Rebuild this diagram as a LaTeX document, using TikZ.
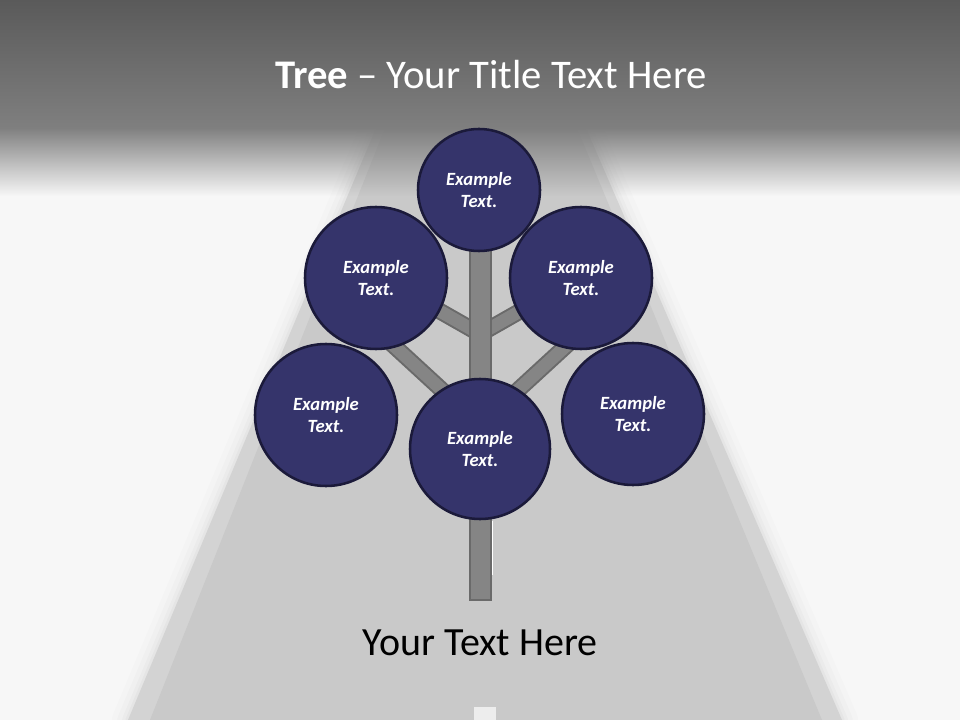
\documentclass[tikz,border=0pt]{standalone}
\usepackage{fontspec}
\setmainfont{Carlito}
\usetikzlibrary{fadings,calc}
\definecolor{bg}{HTML}{F7F7F7}
\definecolor{hdrtop}{HTML}{5A5A5A}
\definecolor{hdrbot}{HTML}{7F7F7F}
\definecolor{roadc}{HTML}{C9C9C9}
\definecolor{roadedge}{HTML}{D3D3D3}
\definecolor{bubblefill}{HTML}{35346B}
\definecolor{bubbleline}{HTML}{1B1A3A}
\definecolor{woodfill}{HTML}{858585}
\definecolor{woodline}{HTML}{6A6A6A}
\definecolor{dashc}{HTML}{EDEDED}
\tikzfading[name=fadedown, top color=transparent!0, bottom color=transparent!100]
\begin{document}
\begin{tikzpicture}[x=0.75pt,y=-0.75pt,
  bubble/.style={circle, fill=bubblefill, draw=bubbleline, line width=1.9pt,
    text=white, align=center, inner sep=0pt,
    font=\bfseries\itshape\fontsize{14}{17}\selectfont},
  branchout/.style={draw=woodline, line width=12.5pt},
  branchin/.style={draw=woodfill, line width=9.5pt},
  trunkbox/.style={fill=woodfill, draw=woodline, line width=1.5pt},
  glow/.style={draw=black, line join=round}]
\useasboundingbox (0,0) rectangle (960,720);
\fill[bg] (0,0) rectangle (960,720);
% road shadow
\foreach \w/\o in {24/0.012,16/0.015,9/0.02,4/0.025}{
  \draw[glow, line width=\w pt, opacity=\o] (376,128) -- (586,128) -- (842,720) -- (128,720) -- cycle;}
% road
\fill[roadedge] (376,128) -- (586,128) -- (842,720) -- (128,720) -- cycle;
\fill[roadc] (385,128) -- (577,128) -- (822,720) -- (150,720) -- cycle;
\fill[dashc] (474,707) rectangle (496,720);
\draw[white, line width=0.8pt] (492,521) -- (492,575);
% header
\shade[top color=hdrtop, bottom color=hdrbot] (0,0) rectangle (960,128);
\fill[hdrbot, path fading=fadedown] (0,127.5) rectangle (960,196);
\node[text=white, font=\fontsize{30.5}{36}\selectfont] (title) at (491,75) {\textbf{Tree} – Your Title Text Here};
% tree coordinates
\coordinate (tt) at (480,250);
\coordinate (tb) at (480,600);
\coordinate (ju) at (480,334);
\coordinate (jl) at (480,425);
\coordinate (ul) at (415,297);
\coordinate (ur) at (545,297);
\coordinate (ll) at (368,322);
\coordinate (lr) at (592,322);
% branches
\foreach \e in {ul,ur}{\draw[branchout] (ju) -- (\e); \draw[branchin] (ju) -- (\e);}
\foreach \e in {ll,lr}{\draw[branchout] (jl) -- (\e); \draw[branchin] (jl) -- (\e);}
% trunk
\draw[trunkbox] ($(tt)+(-10.5,0)$) rectangle ($(tb)+(10.5,0)$);
% bubbles
\node[bubble, minimum size=91.5pt] (top) at (479,190) {Example\\Text.};
\node[bubble, minimum size=106.5pt] (upl) at (376,278) {Example\\Text.};
\node[bubble, minimum size=106.5pt] (upr) at (581,278) {Example\\Text.};
\node[bubble, minimum size=106.5pt] (lol) at (326,415) {Example\\Text.};
\node[bubble, minimum size=106.5pt] (lor) at (633,414) {Example\\Text.};
\node[bubble, minimum size=105pt] (bot) at (480,449) {Example\\Text.};
% bottom text
\node[font=\fontsize{30}{36}\selectfont] (caption) at (480,643) {Your Text Here};
\end{tikzpicture}
\end{document}
